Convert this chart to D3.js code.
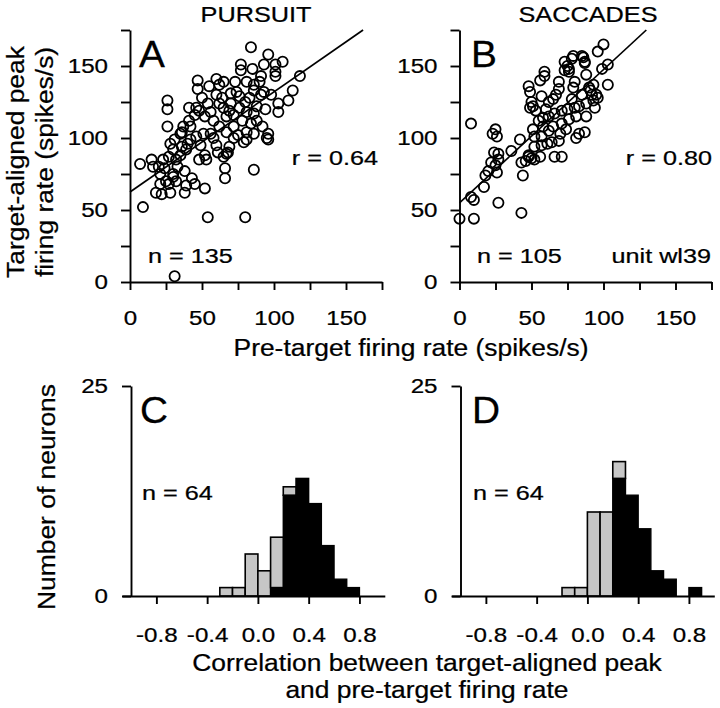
<!DOCTYPE html>
<html><head><meta charset="utf-8">
<script src="https://cdn.jsdelivr.net/npm/d3@7"></script>
<style>
body{margin:0;background:#fff;}
svg text{font-family:"Liberation Sans",Arial,Helvetica,sans-serif;fill:#000;}
</style></head><body>
<svg id="chart" width="720" height="708"></svg>
<script>
// ---------- DATA ----------
const pursuitPoints = [
[7,82],[9,52],[15,85],[16,80],[18,62],[22,61],[21,68],[31,4],[54,45],[80,45],
[86,78],[66,79],[66,72],[52,65],[45,68],[38,62],[30,73],[32,70],[26,126],[26,120],
[26,108],[47,140],[47,134],[55,136],[60,141],[65,139],[62,137],[41,121],[46,121],[54,124],
[37,108],[36,104],[41,112],[84,163],[96,158],[93,151],[106,153],[101,151],[101,146],[101,143],
[90,139],[93,132],[118,143],[113,133],[110,126],[103,124],[103,118],[96,103],[96,99],[92,108],
[77,151],[77,147],[73,139],[81,139],[86,137],[74,132],[76,129],[80,125],[86,133],[91,130],
[62,124],[65,121],[69,119],[72,116],[67,115],[76,121],[81,118],[86,117],[88,112],[58,112],
[62,108],[56,103],[67,104],[72,100],[79,97],[86,103],[84,110],[42,108],[46,101],[51,103],
[49,95],[42,99],[35,103],[31,99],[36,94],[39,92],[28,96],[30,92],[27,87],[32,85],
[23,85],[20,80],[21,75],[30,75],[27,68],[38,77],[43,72],[39,67],[53,85],[52,88],
[65,87],[67,89],[69,94],[60,95],[61,90],[75,102],[81,104],[81,99],[95,100],[68,90],
[45,116],[52,115],[48,119],[70,131],[64,128],[83,128],[78,112],[56,118],[35,88],[24,79],
[33,80],[48,85],[58,100],[72,108],[88,122],[98,130],[94,120],[70,124],[60,130],[50,128],
[40,96],[25,70],[28,62],[85,148],[91,143]
];
const saccadePoints = [
[0,44],[10,44],[8,110],[8,59],[10,57],[17,66],[18,74],[20,77],[22,83],[25,81],
[27,85],[23,103],[25,106],[26,101],[24,90],[27,89],[27,55],[26,76],[36,91],[42,99],
[43,83],[46,84],[48,87],[44,74],[43,48],[52,85],[49,132],[59,143],[66,87],[81,100],
[73,153],[78,155],[76,148],[100,165],[96,160],[103,151],[99,148],[79,157],[86,156],[75,150],
[87,152],[76,146],[88,144],[103,137],[93,137],[91,133],[95,130],[93,126],[83,103],[87,104],
[80,139],[79,135],[71,87],[48,136],[59,146],[69,139],[69,134],[85,157],[87,153],[73,147],
[50,125],[51,122],[53,119],[49,121],[57,129],[62,125],[65,127],[55,112],[58,114],[62,115],
[66,117],[71,119],[75,120],[80,121],[83,122],[51,106],[52,101],[57,101],[62,105],[65,108],
[71,110],[76,113],[81,115],[88,115],[52,94],[57,95],[61,96],[64,97],[69,98],[48,88],
[50,86],[56,87],[74,106],[90,135],[92,130],[96,128],[94,121],[85,130],[88,124],[60,120],
[67,130],[56,140],[78,127],[70,103],[58,108]
];
const pursuitFit = [62.5, 0.695];   // intercept, slope
const saccadeFit = [55, 0.925];
const scatterTicks = [0,25,50,75,100,125,150,175];
const scatterTickLabels = [0,50,100,150];

const binStarts = [-0.3,-0.2,-0.1,0,0.1,0.2,0.3,0.4,0.5,0.6,0.7,0.8];
const pursuitGray  = [1,1,5,3,6,1,0,0,0,0,0,0];
const pursuitBlack = [0,0,0,0,1,12,14,11,6,2,1,0];
const saccadeGray  = [0,1,1,10,10,2,0,0,0,0,0,0];
const saccadeBlack = [0,0,0,0,0,14,12,8,3,2,0,1];
const histTicks = [-0.8,-0.4,0,0.4,0.8];
const histYTicks = [0,25];

// ---------- DRAW ----------
const svg = d3.select("#chart");
const FONT = "Liberation Sans, Arial, Helvetica, sans-serif";
const SX = 1.15;

function label(x, y, str, size, anchor, sx, rot){
  return svg.append("text")
    .attr("transform", `translate(${x},${y})` + (rot ? ` rotate(${rot})` : "") + ` scale(${sx||SX},1)`)
    .attr("font-size", size).attr("text-anchor", anchor)
    .attr("stroke","#000").attr("stroke-width",0.25).text(str);
}
function styleAxis(g, size){
  g.attr("font-size", size).attr("font-family", FONT);
  g.selectAll("path,line").attr("stroke","#000").attr("stroke-width",1.9);
  g.selectAll("text").each(function(){
    const t = d3.select(this);
    const xa = t.attr("x");
    if (xa !== null) t.attr("x", (+xa)/SX);
    t.attr("transform", `scale(${SX},1)`).attr("fill","#000")
     .attr("stroke","#000").attr("stroke-width",0.25);
  });
}

function scatter(x0, pts, fit){
  const x = d3.scaleLinear().domain([0,175]).range([x0, x0+252]);
  const y = d3.scaleLinear().domain([0,175]).range([282, 30]);
  const fmt = d => scatterTickLabels.includes(d) ? String(d) : "";
  const gx = svg.append("g").attr("transform","translate(0,282)")
    .call(d3.axisBottom(x).tickValues(scatterTicks).tickSize(8).tickSizeOuter(0).tickPadding(20).tickFormat(fmt));
  styleAxis(gx, 21);
  const gy = svg.append("g").attr("transform",`translate(${x0},0)`)
    .call(d3.axisLeft(y).tickValues(scatterTicks).tickSize(9).tickSizeOuter(0).tickPadding(13).tickFormat(fmt));
  styleAxis(gy, 21);
  const xEnd = (175 - fit[0]) / fit[1];
  svg.append("line").attr("x1", x(0)).attr("y1", y(fit[0]))
    .attr("x2", x(xEnd)).attr("y2", y(175)).attr("stroke","#000").attr("stroke-width",1.7);
  svg.append("g").selectAll("circle").data(pts).join("circle")
    .attr("cx", d => x(d[0])).attr("cy", d => y(d[1])).attr("r", 5.1)
    .attr("fill","none").attr("stroke","#000").attr("stroke-width",1.8);
}

function hist(x0, gray, black){
  const x = d3.scaleLinear().domain([-1.07, 1.0]).range([x0 - 0.07*126.9, x0 + 2*126.9]);
  const y = d3.scaleLinear().domain([0,25]).range([596, 386]);
  const bins = binStarts.map((b,i) => ({b, g: gray[i], k: black[i]}));
  const g = svg.append("g");
  g.selectAll("rect.k").data(bins.filter(d => d.k > 0)).join("rect").attr("class","k")
    .attr("x", d => x(d.b)).attr("width", d => x(d.b + 0.1) - x(d.b))
    .attr("y", d => y(d.k)).attr("height", d => y(0) - y(d.k))
    .attr("fill","#000").attr("stroke","#000").attr("stroke-width",1.4);
  g.selectAll("rect.g").data(bins.filter(d => d.g > 0)).join("rect").attr("class","g")
    .attr("x", d => x(d.b)).attr("width", d => x(d.b + 0.1) - x(d.b))
    .attr("y", d => y(d.k + d.g)).attr("height", d => y(d.k) - y(d.k + d.g))
    .attr("fill","#c6c6c6").attr("stroke","#000").attr("stroke-width",1.6);
  const gx = svg.append("g").attr("transform","translate(0,596)")
    .call(d3.axisBottom(x).tickValues(histTicks).tickSize(8).tickSizeOuter(0).tickPadding(23)
      .tickFormat(d => (d < 0 ? "-" : "") + Math.abs(d).toFixed(1)));
  styleAxis(gx, 21);
  const gy = svg.append("g").attr("transform",`translate(${x0},0)`)
    .call(d3.axisLeft(y).tickValues(histYTicks).tickSize(9).tickSizeOuter(0).tickPadding(14).tickFormat(d3.format("d")));
  styleAxis(gy, 21);
}

scatter(130, pursuitPoints, pursuitFit);
scatter(459.5, saccadePoints, saccadeFit);
hist(131, pursuitGray, pursuitBlack);
hist(460.5, saccadeGray, saccadeBlack);

// titles & labels
label(256, 22, "PURSUIT", 22, "middle");
label(588, 22, "SACCADES", 22, "middle");
label(139, 67, "A", 37, "start", 1.05);
label(471, 67, "B", 37, "start", 1.05);
label(140, 423, "C", 37, "start", 1.05);
label(472, 423, "D", 37, "start", 1.05);
label(378, 165, "r = 0.64", 21, "end", 1.2);
label(712, 165, "r = 0.80", 21, "end", 1.2);
label(148, 263, "n = 135", 21, "start", 1.2);
label(477, 263, "n = 105", 21, "start", 1.2);
label(711, 263, "unit wl39", 21, "end", 1.2);
label(142, 500, "n = 64", 21, "start", 1.2);
label(473, 500, "n = 64", 21, "start", 1.2);
label(411, 356, "Pre-target firing rate (spikes/s)", 24, "middle", 1.1);
label(24, 162, "Target-aligned peak", 24, "middle", 1.1, -90);
label(53, 162, "firing rate (spikes/s)", 24, "middle", 1.1, -90);
label(55, 497, "Number of neurons", 24, "middle", 1.1, -90);
label(427, 671, "Correlation between target-aligned peak", 24, "middle", 1.1);
label(427, 698, "and pre-target firing rate", 24, "middle", 1.1);
</script>
</body></html>
